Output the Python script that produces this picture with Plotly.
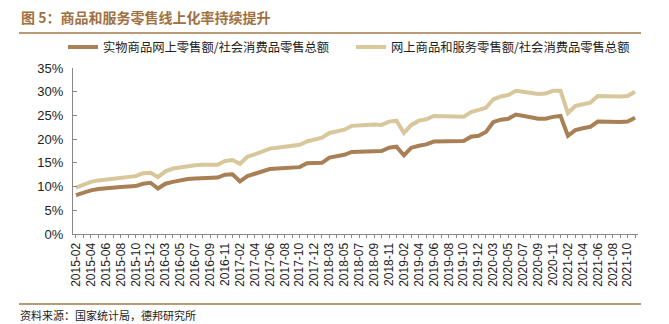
import plotly.graph_objects as go

# ---- data ----
months = []
for yr in range(2015, 2022):
    last = 11 if yr == 2021 else 12
    for m in range(2, last + 1):
        months.append(f"{yr}-{m:02d}")

series_dark_name = "实物商品网上零售额/社会消费品零售总额"
series_light_name = "网上商品和服务零售额/社会消费品零售总额"

dark_values = [
    8.2, 8.8, 9.2, 9.5, 9.7, 9.8, 9.9, 10.0, 10.1, 10.6, 10.8,
    9.6, 10.6, 11.0, 11.4, 11.6, 11.7, 11.8, 11.8, 11.9, 12.5, 12.6,
    11.1, 12.2, 12.7, 13.1, 13.7, 13.8, 13.9, 14.0, 14.1, 14.9, 15.0,
    15.0, 16.1, 16.3, 16.7, 17.3, 17.3, 17.3, 17.5, 17.5, 18.2, 18.4,
    16.6, 18.2, 18.6, 18.9, 19.5, 19.5, 19.5, 19.5, 19.6, 20.5, 20.7,
    21.5, 23.6, 24.1, 24.3, 25.2, 25.0, 24.6, 24.3, 24.3, 24.7, 24.9,
    20.7, 21.9, 22.3, 22.6, 23.7, 23.6, 23.6, 23.6, 23.7, 24.5,
]
light_values = [
    9.8, 10.5, 11.0, 11.3, 11.5, 11.6, 11.8, 12.0, 12.2, 12.8, 12.9,
    12.0, 13.2, 13.8, 14.1, 14.4, 14.5, 14.6, 14.6, 14.6, 15.4, 15.6,
    14.8, 16.3, 16.8, 17.3, 18.0, 18.2, 18.4, 18.6, 18.8, 19.5, 20.0,
    20.3, 21.3, 21.7, 22.0, 22.8, 23.0, 23.0, 23.1, 23.0, 23.7, 23.9,
    21.3, 23.0, 23.9, 24.2, 24.9, 24.8, 24.7, 24.7, 24.7, 25.7, 26.2,
    26.6, 28.4, 29.0, 29.3, 30.2, 30.0, 29.8, 29.5, 29.6, 30.2, 30.2,
    25.5, 27.0, 27.3, 27.7, 29.1, 29.0, 29.0, 29.0, 29.1, 30.0,
]
tick_labels = [m if i % 2 == 0 else "" for i, m in enumerate(months)]
y_ticks = [0, 5, 10, 15, 20, 25, 30, 35]

title_text = "图 5：商品和服务零售线上化率持续提升"
source_text = "资料来源：国家统计局，德邦研究所"

DARK = "#A98056"
LIGHT = "#D9C79C"
BROWN = "#A5774A"
CJK = "Noto Sans CJK SC"

fig = go.Figure()
fig.add_trace(go.Scatter(x=months, y=dark_values, mode="lines", name=series_dark_name,
                         line=dict(color=DARK, width=4)))
fig.add_trace(go.Scatter(x=months, y=light_values, mode="lines", name=series_light_name,
                         line=dict(color=LIGHT, width=4)))

W, H = 669, 324
ml, mr, mt, mb = 73, 31, 68, 90
PW, PH = W - ml - mr, H - mt - mb


def px_x(x):
    return (x - ml) / PW


def px_y(y):
    return 1 - (y - mt) / PH


fig.update_layout(
    width=W, height=H,
    margin=dict(l=ml, r=mr, t=mt, b=mb),
    paper_bgcolor="white", plot_bgcolor="white",
    font=dict(family="Liberation Sans, Arial", size=12, color="#222"),
    showlegend=True,
    legend=dict(orientation="h", x=px_x(63), xanchor="left", y=px_y(47),
                yanchor="middle", font=dict(family=CJK, size=12.3, color="#222"),
                bgcolor="rgba(0,0,0,0)", itemwidth=30, tracegroupgap=0,
                entrywidth=243, entrywidthmode="pixels"),
    xaxis=dict(type="category", range=[-0.4, len(months) - 0.6],
               tickmode="array", tickvals=months, ticktext=tick_labels,
               tickangle=-90, ticks="outside", ticklen=3, tickcolor="#888",
               showline=True, linecolor="#888", linewidth=1, showgrid=False,
               tickfont=dict(size=12, color="#222"), zeroline=False),
    yaxis=dict(range=[0, 35], tickmode="array", tickvals=y_ticks,
               ticktext=[f"{v}%" for v in y_ticks],
               ticks="inside", ticklen=4, tickcolor="#888",
               showline=True, linecolor="#888", linewidth=1, showgrid=False,
               zeroline=False, tickfont=dict(size=13, color="#222"), ticklabelstandoff=6),
    shapes=[
        dict(type="line", xref="paper", yref="paper",
             x0=px_x(19), x1=px_x(641), y0=px_y(33), y1=px_y(33),
             line=dict(color=BROWN, width=1.5)),
        dict(type="line", xref="paper", yref="paper",
             x0=px_x(19), x1=px_x(641), y0=px_y(304), y1=px_y(304),
             line=dict(color=BROWN, width=1.5)),
    ],
    annotations=[
        dict(text=f"<b>{title_text}</b>", xref="paper", yref="paper",
             x=px_x(19), y=px_y(17),
             xanchor="left", yanchor="middle", showarrow=False,
             font=dict(family=CJK, size=14, color="#A0703F")),
        dict(text=source_text, xref="paper", yref="paper",
             x=px_x(18), y=px_y(315),
             xanchor="left", yanchor="middle", showarrow=False,
             font=dict(family=CJK, size=11, color="#222")),
    ],
)

fig.write_html("out.html")
